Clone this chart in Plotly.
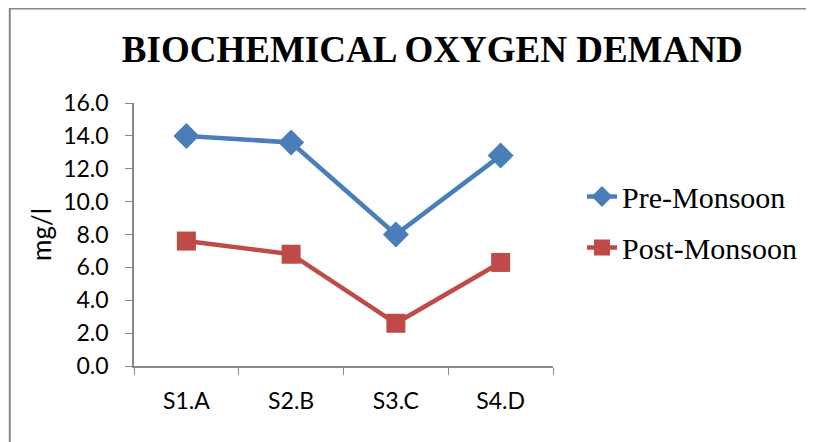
import plotly.graph_objects as go

categories = ["S1.A", "S2.B", "S3.C", "S4.D"]
pre_monsoon = [14.0, 13.6, 8.0, 12.8]
post_monsoon = [7.6, 6.8, 2.6, 6.3]
y_ticks = [0, 2, 4, 6, 8, 10, 12, 14, 16]

# page body has an 8px margin, so work in reference coords shifted by 8
OFF = 8
W, H = 814 - OFF, 442 - OFF
L, R, T, B = 134 - OFF, 554 - OFF, 103 - OFF, 366 - OFF

def px_x(x):
    return (x - OFF - L) / (R - L)

def px_y(y):
    return (B - (y - OFF)) / (B - T)

fig = go.Figure()
fig.add_trace(go.Scatter(
    x=categories, y=pre_monsoon, name="Pre-Monsoon", mode="lines+markers",
    line=dict(color="#4A7EBB", width=4.5),
    marker=dict(symbol="diamond", size=20, color="#4A7EBB"),
    legendgroup="a",
))
fig.add_trace(go.Scatter(
    x=categories, y=post_monsoon, name="Post-Monsoon", mode="lines+markers",
    line=dict(color="#BE4B48", width=4.5),
    marker=dict(symbol="square", size=19, color="#BE4B48"),
    legendgroup="b",
))

fig.update_layout(
    width=W, height=H, autosize=False,
    margin=dict(l=L, r=W - R, t=T, b=H - B, pad=0),
    paper_bgcolor="white", plot_bgcolor="white",
    title=dict(
        text="<b>BIOCHEMICAL OXYGEN DEMAND</b>",
        font=dict(family="Liberation Serif", size=37, color="black"),
        x=px_x(433), xref="paper", xanchor="center",
        y=1 - (49 - OFF) / H, yref="container", yanchor="middle",
    ),
    showlegend=True,
    legend=dict(
        x=px_x(582), y=px_y(222), xref="paper", yref="paper",
        xanchor="left", yanchor="middle",
        font=dict(family="Liberation Serif", size=30, color="black"),
        tracegroupgap=9, bgcolor="rgba(0,0,0,0)",
        itemwidth=30, borderwidth=0,
    ),
    xaxis=dict(
        type="category", range=[-0.5, 3.5],
        showline=True, linecolor="#888888", linewidth=1.5,
        ticks="outside", ticklen=7, tickcolor="#888888", tickson="boundaries",
        showgrid=False, zeroline=False, ticklabelstandoff=14,
        tickfont=dict(family="Lato", size=23, color="black"),
    ),
    yaxis=dict(
        range=[0, 16], tickvals=y_ticks, tickformat=".1f",
        showline=True, linecolor="#888888", linewidth=1.5,
        ticks="outside", ticklen=7, tickcolor="#888888",
        showgrid=False, zeroline=False, ticklabelstandoff=12,
        tickfont=dict(family="Lato", size=23, color="black"),
        title=dict(text="mg/l", font=dict(family="Lato", size=26, color="black"), standoff=4),
    ),
    shapes=[dict(
        type="rect", xref="paper", yref="paper",
        x0=px_x(9.5), x1=px_x(830), y0=px_y(460), y1=px_y(8.5),
        line=dict(color="#888888", width=2), fillcolor="rgba(0,0,0,0)", layer="below",
    )],
)

fig.write_html("out.html")
